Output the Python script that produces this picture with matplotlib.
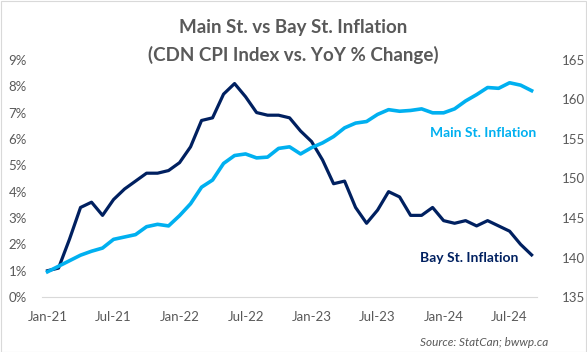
import numpy as np
import matplotlib
matplotlib.use("Agg")
import matplotlib.pyplot as plt
from matplotlib.patches import Rectangle

plt.rcParams["font.family"] = ["Lato", "DejaVu Sans"]

# monthly data Jan-21 .. Sep-24
months = np.arange(45)
tick_positions = [0, 6, 12, 18, 24, 30, 36, 42]
tick_labels = ["Jan-21", "Jul-21", "Jan-22", "Jul-22", "Jan-23", "Jul-23", "Jan-24", "Jul-24"]

# CPI YoY % change (left axis)
bay_st = [1.0, 1.1, 2.2, 3.4, 3.6, 3.1, 3.7, 4.1, 4.4, 4.7, 4.7, 4.8,
          5.1, 5.7, 6.7, 6.8, 7.7, 8.1, 7.6, 7.0, 6.9, 6.9, 6.8, 6.3,
          5.9, 5.2, 4.3, 4.4, 3.4, 2.8, 3.3, 4.0, 3.8, 3.1, 3.1, 3.4,
          2.9, 2.8, 2.9, 2.7, 2.9, 2.7, 2.5, 2.0, 1.6]

# CPI index level (right axis)
main_st = [138.2, 138.9, 139.6, 140.3, 140.8, 141.2, 142.3, 142.6, 142.9, 143.9, 144.2, 144.0,
           145.3, 146.8, 148.9, 149.8, 151.9, 152.9, 153.1, 152.6, 152.7, 153.8, 154.0, 153.1,
           153.9, 154.5, 155.3, 156.4, 157.0, 157.2, 158.1, 158.7, 158.5, 158.6, 158.8, 158.3,
           158.3, 158.8, 159.8, 160.6, 161.5, 161.4, 162.1, 161.8, 161.1]

navy = "#002060"
light = "#00B0F0"
gray = "#595959"

fig = plt.figure(figsize=(5.87, 3.52), dpi=100)
ax = fig.add_axes([0.0716, 0.156, 0.8434, 0.674])
ax2 = ax.twinx()

ax.plot(months, bay_st, color=navy, lw=2.3, solid_joinstyle="round", zorder=3)
ax2.plot(months, main_st, color=light, lw=2.6, solid_joinstyle="round", zorder=2)

ax.set_xlim(-0.5, 44.5)
ax.set_ylim(0, 9)
ax2.set_ylim(135, 165)
ax.set_yticks(np.arange(0, 10))
ax.set_yticklabels([f"{v}%" for v in range(10)])
ax2.set_yticks(np.arange(135, 166, 5))
ax.set_xticks(tick_positions)
ax.set_xticklabels(tick_labels)

for a in (ax, ax2):
    for s in a.spines.values():
        s.set_visible(False)
    a.tick_params(length=0, labelsize=9.5, colors=gray)
ax.spines["bottom"].set_visible(True)
ax.spines["bottom"].set_color("#d9d9d9")
ax.tick_params(axis="y", pad=11)
ax.tick_params(axis="x", pad=10)
ax2.tick_params(axis="y", pad=18)

ax2.text(39.6, 155.8, "Main St. Inflation", color=light, fontsize=10,
         fontweight="bold", ha="center", va="center")
ax.text(38.3, 1.49, "Bay St. Inflation", color=navy, fontsize=10,
        fontweight="bold", ha="center", va="center")

fig.text(0.499, 0.923, "Main St. vs Bay St. Inflation", color=gray, fontsize=13.5,
         fontweight="bold", ha="center", va="center")
fig.text(0.499, 0.843, "(CDN CPI Index vs. YoY % Change)", color=gray, fontsize=13.5,
         fontweight="bold", ha="center", va="center")
fig.text(0.934, 0.028, "Source: StatCan; bwwp.ca", color=gray, fontsize=8.5,
         style="italic", ha="right", va="center")

fig.add_artist(Rectangle((0.001, 0.001), 0.997, 0.997, transform=fig.transFigure,
                         fill=False, edgecolor="#d9d9d9", lw=0.8))

fig.savefig("out.png", dpi=100)
